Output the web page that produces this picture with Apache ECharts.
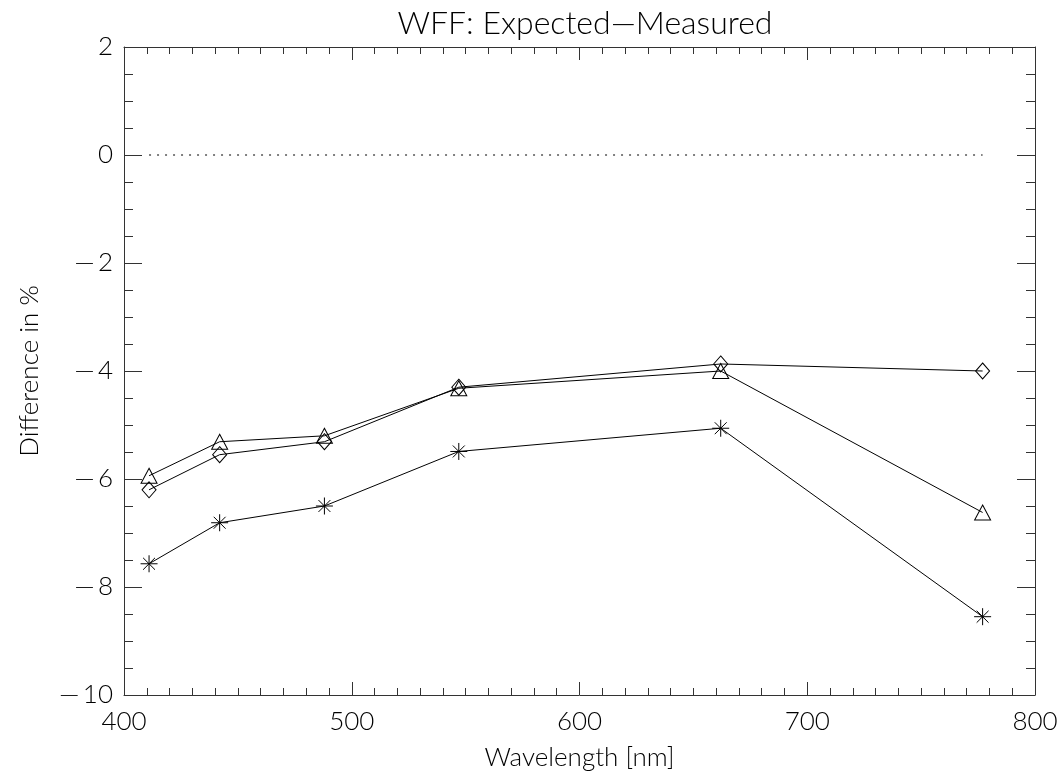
<!DOCTYPE html>
<html>
<head>
<meta charset="utf-8">
<script src="https://cdn.jsdelivr.net/npm/echarts@6/dist/echarts.min.js"></script>
<style>
html,body{margin:0;padding:0;background:#fff;}
#chart{width:1064px;height:779px;}
</style>
</head>
<body>
<div id="chart"></div>
<script>
const wavelengths = [411, 442, 488, 547, 662, 777];
const diamondVals = [-6.20, -5.55, -5.31, -4.30, -3.87, -4.00];
const triangleVals = [-5.94, -5.31, -5.20, -4.32, -4.00, -6.62];
const starVals = [-7.57, -6.81, -6.50, -5.49, -5.06, -8.55];
const zeroLineX = [411, 777];
const xTicks = {min: 400, max: 800, step: 100};
const yTicks = {min: -10, max: 2, step: 2};

const FONT = 'Lato';
const AX = '#333';
const pair = (xs, ys) => xs.map((x, i) => [x, ys[i]]);
const fmtMinus = v => String(v).replace('-', '\u2014\u2009');

const chart = echarts.init(document.getElementById('chart'), null, {renderer: 'canvas'});

const baseX = {
  type: 'value', min: xTicks.min, max: xTicks.max, interval: xTicks.step,
  axisLine: {show: true, onZero: false, lineStyle: {color: AX, width: 1}},
  axisTick: {show: true, inside: true, length: 13, lineStyle: {color: AX}},
  minorTick: {show: true, splitNumber: 10, length: 7, lineStyle: {color: AX}},
  splitLine: {show: false}, minorSplitLine: {show: false}
};
const baseY = {
  type: 'value', min: yTicks.min, max: yTicks.max, interval: yTicks.step,
  axisLine: {show: true, onZero: false, lineStyle: {color: AX, width: 1}},
  axisTick: {show: true, inside: true, length: 18, lineStyle: {color: AX}},
  minorTick: {show: true, splitNumber: 4, length: 9, lineStyle: {color: AX}},
  splitLine: {show: false}, minorSplitLine: {show: false}
};

const markerStyle = {color: 'transparent', borderColor: '#000', borderWidth: 1};
const lineSty = {color: '#000', width: 1};
const star = 'path://M0,-1L0,1M-1,0L1,0M-0.7,-0.7L0.7,0.7M-0.7,0.7L0.7,-0.7';

chart.setOption({
  animation: false,
  backgroundColor: '#fff',
  title: {
    text: 'WFF: Expected\u2014Measured',
    left: 580, top: 3, textAlign: 'center',
    textStyle: {fontFamily: FONT, fontWeight: 300, fontSize: 32, color: '#000'}
  },
  grid: {left: 124, right: 29, top: 47, bottom: 84, containLabel: false},
  xAxis: [
    Object.assign({}, baseX, {
      position: 'bottom',
      name: 'Wavelength [nm]', nameLocation: 'middle', nameGap: 50,
      nameTextStyle: {fontFamily: FONT, fontWeight: 300, fontSize: 26, color: '#000'},
      axisLabel: {show: true, margin: 14, fontFamily: FONT, fontWeight: 300, fontSize: 26, color: '#000', formatter: fmtMinus}
    }),
    Object.assign({}, baseX, {position: 'top', axisLabel: {show: false}})
  ],
  yAxis: [
    Object.assign({}, baseY, {
      position: 'left',
      name: 'Difference in %', nameLocation: 'middle', nameGap: 81,
      nameTextStyle: {fontFamily: FONT, fontWeight: 300, fontSize: 26, color: '#000'},
      axisLabel: {show: true, margin: 11, fontFamily: FONT, fontWeight: 300, fontSize: 26, color: '#000', formatter: fmtMinus}
    }),
    Object.assign({}, baseY, {position: 'right', axisLabel: {show: false}})
  ],
  series: [
    {
      type: 'line', data: zeroLineX.map(x => [x, 0]), symbol: 'none', silent: true,
      lineStyle: {color: '#000', width: 1, type: [2, 6]}
    },
    {
      type: 'line', data: pair(wavelengths, diamondVals), symbol: 'diamond', symbolSize: [14, 16],
      itemStyle: markerStyle, lineStyle: lineSty, silent: true
    },
    {
      type: 'line', data: pair(wavelengths, triangleVals), symbol: 'triangle', symbolSize: [16, 15],
      itemStyle: markerStyle, lineStyle: lineSty, silent: true
    },
    {
      type: 'line', data: pair(wavelengths, starVals), symbol: star, symbolSize: 17,
      itemStyle: markerStyle, lineStyle: lineSty, silent: true
    }
  ]
});
</script>
</body>
</html>
